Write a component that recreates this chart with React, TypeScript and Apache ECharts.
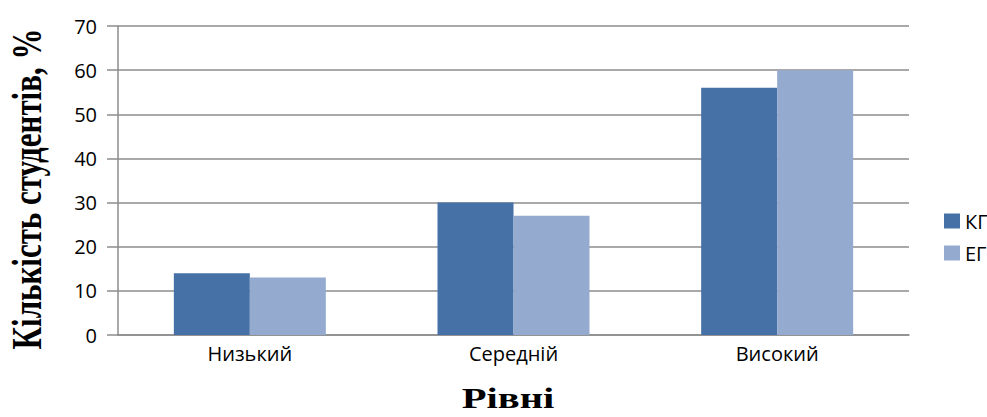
import React, { useEffect, useRef } from "react";
import * as echarts from "echarts";

const categories = ["Низький", "Середній", "Високий"];
const seriesNames = ["КГ", "ЕГ"];
const kgValues = [14, 30, 56];
const egValues = [13, 27, 60];
const yTicks = [0, 10, 20, 30, 40, 50, 60, 70];
const xTitle = "Рівні";
const yTitle = "Кількість студентів, %";

export default function App() {
  const ref = useRef<HTMLDivElement>(null);
  useEffect(() => {
    if (!ref.current) return;
    const chart = echarts.init(ref.current, null, { renderer: "svg" });
    const grey = "#8c8c8c";
    chart.setOption({
      animation: false,
      backgroundColor: "#ffffff",
      grid: { left: 118, right: 78, top: 26, bottom: 82, containLabel: false },
      legend: {
        orient: "vertical",
        left: 939,
        top: 206,
        itemWidth: 16,
        itemHeight: 15,
        itemGap: 12,
        icon: "rect",
        textStyle: { fontFamily: "Open Sans", fontSize: 20, color: "#000" },
        data: seriesNames,
      },
      graphic: [
        {
          type: "text",
          x: 27,
          y: 189,
          rotation: Math.PI / 2,
          scaleX: 1,
          scaleY: 1.35,
          style: {
            text: yTitle,
            font: "bold 31px 'Liberation Serif', 'Times New Roman', serif",
            fill: "#000",
            textAlign: "center",
            textVerticalAlign: "middle",
          },
        },
        {
          type: "text",
          x: 508,
          y: 399,
          scaleX: 1.4,
          scaleY: 1,
          style: {
            text: xTitle,
            font: "bold 29px 'Liberation Serif', 'Times New Roman', serif",
            fill: "#000",
            textAlign: "center",
            textVerticalAlign: "middle",
          },
        },
      ],
      xAxis: {
        type: "category",
        data: categories,
        axisLine: { show: true, lineStyle: { color: grey, width: 1.5 } },
        axisTick: { show: false },
        axisLabel: { margin: 8, fontFamily: "Open Sans", fontSize: 20, color: "#000" },
      },
      yAxis: {
        type: "value",
        min: yTicks[0],
        max: yTicks[yTicks.length - 1],
        interval: 10,
        axisLine: { show: true, lineStyle: { color: grey, width: 1.5 } },
        axisTick: { show: true, length: 11, inside: false, lineStyle: { color: grey, width: 1.5 } },
        axisLabel: { margin: 21, fontFamily: "Open Sans", fontSize: 20, color: "#000" },
        splitLine: { show: true, lineStyle: { color: grey, width: 1.5 } },
      },
      series: [
        {
          name: seriesNames[0],
          type: "bar",
          data: kgValues,
          barWidth: 76,
          barGap: "0%",
          itemStyle: { color: "#4571a7" },
        },
        {
          name: seriesNames[1],
          type: "bar",
          data: egValues,
          barWidth: 76,
          barGap: "0%",
          itemStyle: { color: "#95aacf" },
        },
      ],
    });
    return () => chart.dispose();
  }, []);
  return <div ref={ref} style={{ width: 987, height: 417, position: "absolute", left: 0, top: 0 }} />;
}
